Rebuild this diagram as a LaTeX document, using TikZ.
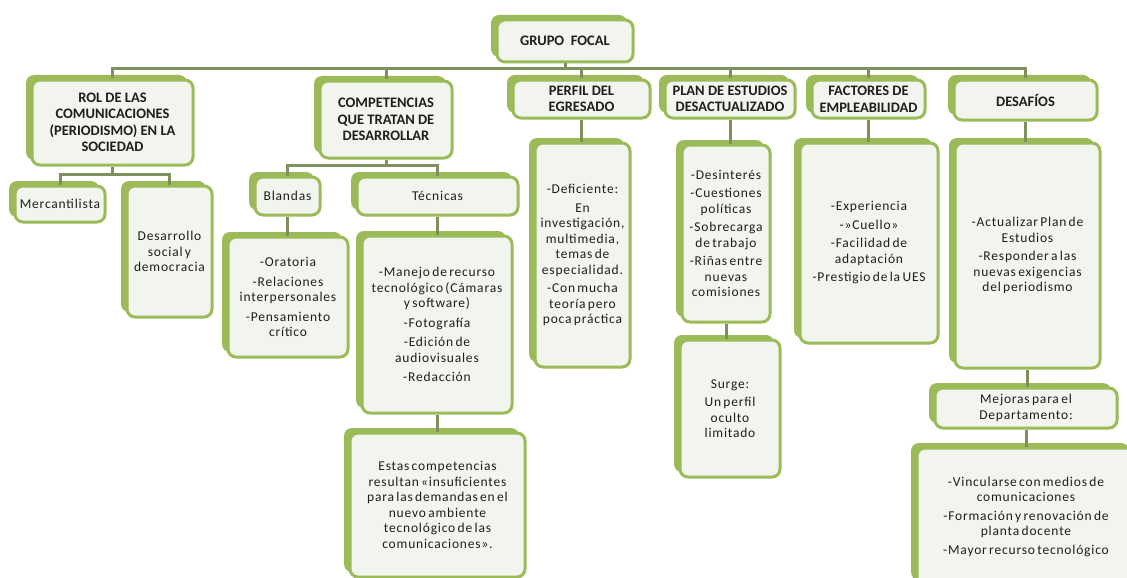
\documentclass[tikz,border=0pt]{standalone}
\usepackage{fontspec}
\setmainfont{Carlito}
\newfontfamily\bodyfont{Carlito}[LetterSpace=6,WordSpace=0.6]
\usetikzlibrary{shadows}

\definecolor{boxgreen}{HTML}{9BBB59}
\definecolor{boxfill}{HTML}{F2F4EE}
\definecolor{linkgreen}{HTML}{7E905C}
\definecolor{inkgray}{HTML}{1E1E1E}

\tikzset{
    box/.style={draw=boxgreen, line width=3pt, fill=boxfill, rounded corners=8pt,
        align=center, text=inkgray, inner sep=2pt,
        drop shadow={shadow xshift=-6pt, shadow yshift=5pt, fill=boxgreen, opacity=1}},
    head/.style={box, font=\fontsize{14.5}{16.5}\selectfont\bfseries},
    item/.style={box, font=\bodyfont\fontsize{13.5}{15.5}\selectfont},
    link/.style={draw=linkgreen, line width=3pt}
}

\begin{document}
\begin{tikzpicture}[x=1pt,y=-1pt]
        \useasboundingbox (0,0) rectangle (1127,578);
        \fill[white] (0,0) rectangle (1127,578);

        % Draw the focal group and the six themes
        \node[head, minimum width=136pt, minimum height=42pt] (grupo) at (565,41) {GRUPO\ \ FOCAL};
        \node[head, minimum width=161pt, minimum height=85pt] (rol) at (112.5,122.5)
            {ROL DE LAS\\COMUNICACIONES\\(PERIODISMO) EN LA\\SOCIEDAD};
        \node[head, minimum width=132pt, minimum height=77pt] (comp) at (386,119.5)
            {COMPETENCIAS\\QUE TRATAN DE\\DESARROLLAR};
        \node[head, minimum width=137pt, minimum height=38pt] (perfil) at (581.5,99) {PERFIL DEL\\EGRESADO};
        \node[head, minimum width=130pt, minimum height=38pt] (plan) at (730,99) {PLAN DE ESTUDIOS\\DESACTUALIZADO};
        \node[head, minimum width=113pt, minimum height=38pt] (fact) at (868.5,99) {FACTORES DE\\EMPLEABILIDAD};
        \node[head, minimum width=143pt, minimum height=40pt] (desaf) at (1025.5,100) {DESAFÍOS};

        % Draw the role of the communications
        \node[item, minimum width=90pt, minimum height=36pt] (merc) at (60,204) {Mercantilista};
        \node[item, minimum width=85pt, minimum height=131pt] (desa) at (169.5,251.5) {Desarrollo\\social y\\democracia};

        % Draw the competences
        \node[item, minimum width=65pt, minimum height=38pt] (bland) at (287.5,196) {Blandas};
        \node[item, minimum width=161pt, minimum height=38pt] (tecn) at (437.5,196) {Técnicas};
        \node[item, minimum width=120pt, minimum height=120pt] (blandit) at (288,297)
            {-Oratoria\\[4pt]-Relaciones\\interpersonales\\[4pt]-Pensamiento\\crítico};
        \node[item, minimum width=150pt, minimum height=177pt] (tecnit) at (437,324.5)
            {-Manejo de recurso\\tecnológico (Cámaras\\y software)\\[4pt]-Fotografía\\[4pt]-Edición de\\audiovisuales\\[4pt]-Redacción};
        \node[item, minimum width=175pt, minimum height=144pt] (estas) at (437.5,505)
            {Estas competencias\\resultan «insuficientes\\para las demandas en el\\nuevo ambiente\\tecnológico de las\\comunicaciones».};

        % Draw the profile and the study plan
        \node[item, minimum width=95pt, minimum height=224pt] (perfilit) at (582.5,255)
            {-Deficiente:\\[3pt]En\\investigación,\\multimedia,\\temas de\\especialidad.\\[3pt]-Con mucha\\teoría pero\\poca práctica};
        \node[item, minimum width=88pt, minimum height=177pt] (planit) at (726,233.5)
            {-Desinterés\\[3pt]-Cuestiones\\políticas\\[3pt]-Sobrecarga\\de trabajo\\[3pt]-Riñas entre\\nuevas\\comisiones};
        \node[item, minimum width=100pt, minimum height=137pt] (surge) at (730,408.5)
            {Surge:\\[3pt]Un perfil\\oculto\\limitado};

        % Draw the employability factors and the challenges
        \node[item, minimum width=138pt, minimum height=200pt] (factit) at (869,243)
            {-Experiencia\\[3pt]-»Cuello»\\[3pt]-Facilidad de\\adaptación\\[3pt]-Prestigio de la UES};
        \node[item, minimum width=145pt, minimum height=225pt] (desafit) at (1027.5,255.5)
            {-Actualizar Plan de\\Estudios\\[3pt]-Responder a las\\nuevas exigencias\\del periodismo};
        \node[item, minimum width=182pt, minimum height=40pt] (mejoras) at (1026,408) {Mejoras para el\\Departamento:};
        \node[item, minimum width=218pt, minimum height=137pt] (mejorasit) at (1026,516.5)
            {-Vincularse con medios de\\comunicaciones\\[3pt]-Formación y renovación de\\planta docente\\[3pt]-Mayor recurso tecnológico};

        % Draw the bus under the focal group
        \draw[link] (grupo.south) -- ++(0,5) coordinate (bus);
        \foreach \n in {rol,comp,perfil,plan,fact,desaf}
            \draw[link] (bus) -| (\n.north);

        % Draw the two small buses
        \draw[link] (rol.south) -- ++(0,8) coordinate (rolbus);
        \draw[link] (rolbus) -| (merc.north);
        \draw[link] (rolbus) -| (desa.north);
        \draw[link] (comp.south) -- ++(0,6) coordinate (compbus);
        \draw[link] (compbus) -| (bland.north);
        \draw[link] (compbus) -| (tecn.north);

        % Draw the straight links
        \foreach \a/\b in {bland/blandit,tecn/tecnit,tecnit/estas,perfil/perfilit,plan/planit,
                planit/surge,fact/factit,desaf/desafit,desafit/mejoras,mejoras/mejorasit}
            \draw[link] (\a.south) -- (\a.south |- \b.north);
\end{tikzpicture}
\end{document}
